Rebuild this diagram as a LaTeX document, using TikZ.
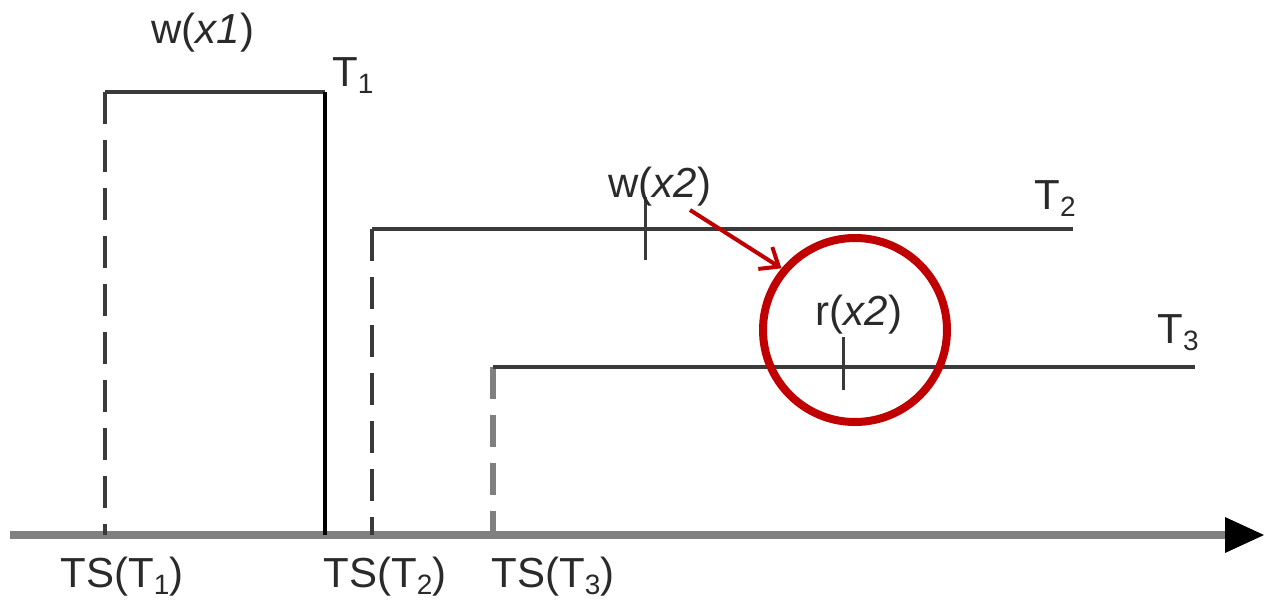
\documentclass[tikz,border=0pt]{standalone}
\usepackage{fontspec}
\setmainfont{Liberation Sans}
\usetikzlibrary{arrows.meta}
\definecolor{ln}{HTML}{3A3A3A}
\definecolor{tx}{HTML}{2A2A2A}
\definecolor{ax}{HTML}{808080}
\definecolor{rd}{HTML}{C00000}
\newcommand\mysub[1]{\raisebox{-7pt}{\fontsize{28}{28}\selectfont #1}}
\begin{document}
\begin{tikzpicture}[x=1pt,y=-1pt,
  lbl/.style={font=\fontsize{42}{50}\selectfont, inner sep=0pt, text=tx},
  life/.style={draw=ln, line width=4pt},
  dashln/.style={draw=ln, line width=4pt, dash pattern=on 32pt off 16pt},
  dashgray/.style={draw=ax, line width=6pt, dash pattern=on 32pt off 16pt},
  tick/.style={draw=ln, line width=3pt},
  axisln/.style={draw=ax, line width=8pt, -{Triangle[length=39pt,width=36pt,line width=0pt,fill=black,color=black]}},
  redarrow/.style={draw=rd, line width=4pt, -{Straight Barb[length=16pt,width=26pt,line width=4pt]}},
  redring/.style={draw=rd, line width=8pt, circle, minimum size=184pt, inner sep=0pt}
]
\useasboundingbox (0,0) rectangle (1264,600);
% coordinates
\coordinate (axs) at (10,535);
\coordinate (axe) at (1264,535);
\coordinate (a1) at (105,92);
\coordinate (b1) at (105,535);
\coordinate (c1) at (325,92);
\coordinate (d1) at (325,535);
\coordinate (a2) at (372,229);
\coordinate (b2) at (372,535);
\coordinate (c2) at (1073,229);
\coordinate (a3) at (493,367);
\coordinate (b3) at (493,535);
\coordinate (c3) at (1195,367);
\coordinate (w2t) at (645,197);
\coordinate (w2b) at (645,260);
\coordinate (r2t) at (843,337);
\coordinate (r2b) at (843,390);
\coordinate (arrs) at (690,210);
% axis
\draw[axisln] (axs) -- (axe);
% T1
\draw[dashln] (a1) -- (b1);
\draw[life] (a1) -- (c1);
\draw[draw=black, line width=4pt] (c1) -- (d1);
% T2
\draw[dashln] (a2) -- (b2);
\draw[life] (a2) -- (c2);
% T3
\draw[dashgray] (a3) -- (b3);
\draw[life] (a3) -- (c3);
% ticks
\draw[tick] (w2t) -- (w2b);
\draw[tick] (r2t) -- (r2b);
% labels
\node[lbl] (wx1) at (203,33) {w(\textit{x1})};
\node[lbl, anchor=west] (t1) at (332,76) {T\mysub{1}};
\node[lbl] (wx2) at (660,187) {w(\textit{x2})};
\node[lbl] (t2) at (1055,199) {T\mysub{2}};
\node[lbl] (rx2) at (859,315) {r(\textit{x2})};
\node[lbl] (t3) at (1178,333) {T\mysub{3}};
\node[lbl, anchor=base] (ts1) at (122,587) {TS(T\mysub{1})};
\node[lbl, anchor=base] (ts2) at (385,587) {TS(T\mysub{2})};
\node[lbl, anchor=base] (ts3) at (553,587) {TS(T\mysub{3})};
% ring and arrow
\node[redring] (ring) at (855,330) {};
\draw[redarrow] (arrs) -- (ring.140);
\end{tikzpicture}
\end{document}
